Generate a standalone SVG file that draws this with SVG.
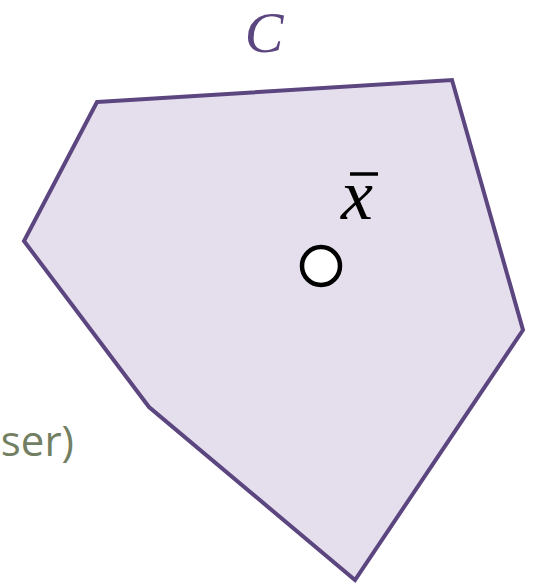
<svg xmlns="http://www.w3.org/2000/svg" width="537" height="585" viewBox="0 0 537 585">
<style>
.set{fill:#e5dfed;stroke:#5c4680;stroke-width:4;stroke-linejoin:miter}
.pt{fill:#fff;stroke:#000;stroke-width:4.5}
.math{font-family:"Liberation Serif","DejaVu Serif",serif;font-style:italic}
</style>
<g id="setC">
<polygon class="set" points="97,102 452,80 523,330 355,580 149,407 24,241"/>
</g>
<g id="labelC">
<text class="math" x="264" y="52" font-size="58" fill="#5c4680" text-anchor="middle">C</text>
</g>
<g id="xbar">
<text class="math" x="357" y="219" font-size="72" fill="#000" text-anchor="middle">x</text>
<line x1="350" y1="174" x2="378" y2="174" stroke="#000" stroke-width="3.5"/>
</g>
<g id="point">
<circle class="pt" cx="321" cy="266" r="19"/>
</g>
<g id="side">
<text x="74" y="456" font-size="42" font-family="'Open Sans','Liberation Sans',sans-serif" fill="#737f63" text-anchor="end">ser)</text>
</g>
</svg>
